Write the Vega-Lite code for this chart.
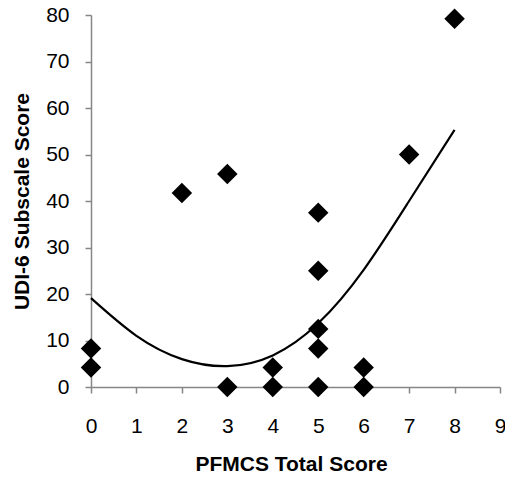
{
  "$schema": "https://vega.github.io/schema/vega-lite/v6.json",
  "width": 409,
  "height": 372,
  "autosize": "none",
  "padding": {"left": 91, "top": 15, "right": 5, "bottom": 90},
  "background": "white",
  "config": {"view": {"stroke": null}, "font": "Liberation Sans"},
  "datasets": {
    "points": [
      {"pfmcs": 0, "udi": 8.3},
      {"pfmcs": 0, "udi": 4.2},
      {"pfmcs": 2, "udi": 41.7},
      {"pfmcs": 3, "udi": 45.8},
      {"pfmcs": 3, "udi": 0},
      {"pfmcs": 4, "udi": 4.2},
      {"pfmcs": 4, "udi": 0},
      {"pfmcs": 5, "udi": 37.5},
      {"pfmcs": 5, "udi": 25},
      {"pfmcs": 5, "udi": 12.5},
      {"pfmcs": 5, "udi": 8.3},
      {"pfmcs": 5, "udi": 0},
      {"pfmcs": 6, "udi": 4.2},
      {"pfmcs": 6, "udi": 0},
      {"pfmcs": 7, "udi": 50},
      {"pfmcs": 8, "udi": 79.2}
    ],
    "trend": [
      {"pfmcs": 0, "udi": 19.1},
      {"pfmcs": 1, "udi": 11.0},
      {"pfmcs": 2, "udi": 6.0},
      {"pfmcs": 3, "udi": 4.5},
      {"pfmcs": 4, "udi": 6.8},
      {"pfmcs": 5, "udi": 13.7},
      {"pfmcs": 6, "udi": 25.2},
      {"pfmcs": 7, "udi": 40.0},
      {"pfmcs": 8, "udi": 55.3}
    ]
  },
  "encoding": {
    "x": {
      "field": "pfmcs", "type": "quantitative",
      "scale": {"domain": [0, 9], "nice": false, "zero": false},
      "axis": {
        "values": [0, 1, 2, 3, 4, 5, 6, 7, 8, 9],
        "grid": false, "tickSize": 6, "tickWidth": 1.5, "tickColor": "#868686",
        "domainColor": "#868686", "domainWidth": 1.5,
        "labelFontSize": 21, "labelColor": "black", "labelPadding": 22, "labelFlush": false,
        "title": "PFMCS Total Score", "titleFontSize": 21, "titleFontWeight": "bold",
        "titleColor": "black", "titlePadding": 17, "titleX": 200
      }
    },
    "y": {
      "field": "udi", "type": "quantitative",
      "scale": {"domain": [0, 80], "nice": false},
      "axis": {
        "values": [0, 10, 20, 30, 40, 50, 60, 70, 80],
        "grid": false, "tickSize": 6, "tickWidth": 1.5, "tickColor": "#868686",
        "domainColor": "#868686", "domainWidth": 1.5,
        "labelFontSize": 21, "labelColor": "black", "labelPadding": 16, "labelFlush": false,
        "title": "UDI-6 Subscale Score", "titleFontSize": 21, "titleFontWeight": "bold",
        "titleColor": "black", "titlePadding": 13
      }
    }
  },
  "layer": [
    {
      "data": {"name": "trend"},
      "mark": {"type": "line", "color": "black", "strokeWidth": 2.2, "interpolate": "natural", "clip": false}
    },
    {
      "data": {"name": "points"},
      "mark": {"type": "point", "shape": "diamond", "filled": true, "color": "black", "size": 420, "opacity": 1, "clip": false}
    }
  ]
}
